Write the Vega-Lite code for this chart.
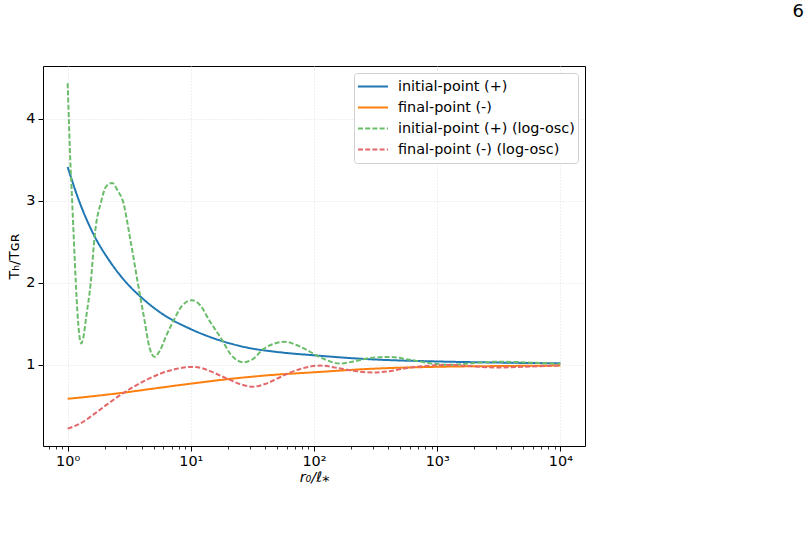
{
  "$schema": "https://vega.github.io/schema/vega-lite/v6.json",
  "width": 542,
  "height": 380,
  "autosize": {"type": "none"},
  "padding": {"left": 43, "top": 66, "right": 224, "bottom": 91},
  "title": {"text": "6", "anchor": "end", "frame": "group", "dx": 219, "offset": 45, "fontSize": 18, "fontWeight": "normal", "font": "DejaVu Sans", "color": "#000000"},
  "config": {
    "font": "DejaVu Sans",
    "view": {"stroke": "#000000", "strokeWidth": 1},
    "axis": {
      "labelFont": "DejaVu Sans", "labelFontSize": 14.4, "labelColor": "#000000",
      "titleFont": "DejaVu Sans", "titleFontSize": 14.4, "titleFontWeight": "normal", "titleColor": "#000000",
      "domain": false, "tickColor": "#000000", "tickSize": 5, "tickWidth": 1,
      "gridColor": "#d9d9d9", "gridDash": [1, 2], "gridWidth": 0.8
    },
    "legend": {
      "title": null, "orient": "top-right", "offset": 7, "padding": 3,
      "fillColor": "#ffffff", "strokeColor": "#d0d0d0", "cornerRadius": 3,
      "labelFontSize": 14.4, "labelFont": "DejaVu Sans", "labelColor": "#000000", "labelOffset": 9, "labelLimit": 400,
      "symbolType": "stroke", "symbolSize": 900, "rowPadding": 0, "clipHeight": 21
    }
  },
  "data": {"values": [
    {"s": "initial-point (+)", "r": 1, "v": 3.41},
    {"s": "initial-point (+)", "r": 1.25, "v": 2.98},
    {"s": "initial-point (+)", "r": 1.61, "v": 2.6},
    {"s": "initial-point (+)", "r": 2.2, "v": 2.26},
    {"s": "initial-point (+)", "r": 3, "v": 2.0},
    {"s": "initial-point (+)", "r": 4.04, "v": 1.81},
    {"s": "initial-point (+)", "r": 6, "v": 1.61},
    {"s": "initial-point (+)", "r": 10, "v": 1.434},
    {"s": "initial-point (+)", "r": 17.8, "v": 1.29},
    {"s": "initial-point (+)", "r": 28.4, "v": 1.21},
    {"s": "initial-point (+)", "r": 50, "v": 1.156},
    {"s": "initial-point (+)", "r": 100, "v": 1.115},
    {"s": "initial-point (+)", "r": 267, "v": 1.069},
    {"s": "initial-point (+)", "r": 1000, "v": 1.04},
    {"s": "initial-point (+)", "r": 3000, "v": 1.027},
    {"s": "initial-point (+)", "r": 10000, "v": 1.017},

    {"s": "final-point (-)", "r": 1, "v": 0.585},
    {"s": "final-point (-)", "r": 1.5, "v": 0.612},
    {"s": "final-point (-)", "r": 2.84, "v": 0.66},
    {"s": "final-point (-)", "r": 5, "v": 0.71},
    {"s": "final-point (-)", "r": 10, "v": 0.77},
    {"s": "final-point (-)", "r": 25, "v": 0.84},
    {"s": "final-point (-)", "r": 50, "v": 0.88},
    {"s": "final-point (-)", "r": 100, "v": 0.908},
    {"s": "final-point (-)", "r": 267, "v": 0.948},
    {"s": "final-point (-)", "r": 1000, "v": 0.975},
    {"s": "final-point (-)", "r": 3000, "v": 0.984},
    {"s": "final-point (-)", "r": 10000, "v": 0.99},

    {"s": "initial-point (+) (log-osc)", "r": 1, "v": 4.43},
    {"s": "initial-point (+) (log-osc)", "r": 1.023, "v": 4.0},
    {"s": "initial-point (+) (log-osc)", "r": 1.05, "v": 3.5},
    {"s": "initial-point (+) (log-osc)", "r": 1.088, "v": 3.0},
    {"s": "initial-point (+) (log-osc)", "r": 1.125, "v": 2.5},
    {"s": "initial-point (+) (log-osc)", "r": 1.165, "v": 2.0},
    {"s": "initial-point (+) (log-osc)", "r": 1.2, "v": 1.65},
    {"s": "initial-point (+) (log-osc)", "r": 1.24, "v": 1.38},
    {"s": "initial-point (+) (log-osc)", "r": 1.29, "v": 1.26},
    {"s": "initial-point (+) (log-osc)", "r": 1.34, "v": 1.33},
    {"s": "initial-point (+) (log-osc)", "r": 1.42, "v": 1.6},
    {"s": "initial-point (+) (log-osc)", "r": 1.54, "v": 2.0},
    {"s": "initial-point (+) (log-osc)", "r": 1.66, "v": 2.58},
    {"s": "initial-point (+) (log-osc)", "r": 1.88, "v": 3.0},
    {"s": "initial-point (+) (log-osc)", "r": 2.05, "v": 3.17},
    {"s": "initial-point (+) (log-osc)", "r": 2.3, "v": 3.215},
    {"s": "initial-point (+) (log-osc)", "r": 2.55, "v": 3.12},
    {"s": "initial-point (+) (log-osc)", "r": 2.8, "v": 3.0},
    {"s": "initial-point (+) (log-osc)", "r": 3.25, "v": 2.5},
    {"s": "initial-point (+) (log-osc)", "r": 3.71, "v": 2.0},
    {"s": "initial-point (+) (log-osc)", "r": 4.2, "v": 1.55},
    {"s": "initial-point (+) (log-osc)", "r": 4.6, "v": 1.22},
    {"s": "initial-point (+) (log-osc)", "r": 5.06, "v": 1.097},
    {"s": "initial-point (+) (log-osc)", "r": 5.6, "v": 1.17},
    {"s": "initial-point (+) (log-osc)", "r": 6.3, "v": 1.35},
    {"s": "initial-point (+) (log-osc)", "r": 7.2, "v": 1.53},
    {"s": "initial-point (+) (log-osc)", "r": 8.5, "v": 1.72},
    {"s": "initial-point (+) (log-osc)", "r": 10.2, "v": 1.786},
    {"s": "initial-point (+) (log-osc)", "r": 12, "v": 1.72},
    {"s": "initial-point (+) (log-osc)", "r": 14, "v": 1.55},
    {"s": "initial-point (+) (log-osc)", "r": 17.8, "v": 1.31},
    {"s": "initial-point (+) (log-osc)", "r": 21, "v": 1.13},
    {"s": "initial-point (+) (log-osc)", "r": 26.7, "v": 1.03},
    {"s": "initial-point (+) (log-osc)", "r": 32, "v": 1.07},
    {"s": "initial-point (+) (log-osc)", "r": 38.7, "v": 1.19},
    {"s": "initial-point (+) (log-osc)", "r": 46, "v": 1.25},
    {"s": "initial-point (+) (log-osc)", "r": 58, "v": 1.28},
    {"s": "initial-point (+) (log-osc)", "r": 72, "v": 1.24},
    {"s": "initial-point (+) (log-osc)", "r": 85, "v": 1.19},
    {"s": "initial-point (+) (log-osc)", "r": 100, "v": 1.13},
    {"s": "initial-point (+) (log-osc)", "r": 125, "v": 1.06},
    {"s": "initial-point (+) (log-osc)", "r": 162, "v": 1.015},
    {"s": "initial-point (+) (log-osc)", "r": 210, "v": 1.04},
    {"s": "initial-point (+) (log-osc)", "r": 280, "v": 1.08},
    {"s": "initial-point (+) (log-osc)", "r": 412, "v": 1.095},
    {"s": "initial-point (+) (log-osc)", "r": 600, "v": 1.06},
    {"s": "initial-point (+) (log-osc)", "r": 1000, "v": 1.008},
    {"s": "initial-point (+) (log-osc)", "r": 1300, "v": 1.0},
    {"s": "initial-point (+) (log-osc)", "r": 2000, "v": 1.02},
    {"s": "initial-point (+) (log-osc)", "r": 3000, "v": 1.037},
    {"s": "initial-point (+) (log-osc)", "r": 5000, "v": 1.03},
    {"s": "initial-point (+) (log-osc)", "r": 7000, "v": 1.02},
    {"s": "initial-point (+) (log-osc)", "r": 10000, "v": 1.012},

    {"s": "final-point (-) (log-osc)", "r": 1, "v": 0.222},
    {"s": "final-point (-) (log-osc)", "r": 1.26, "v": 0.283},
    {"s": "final-point (-) (log-osc)", "r": 1.62, "v": 0.392},
    {"s": "final-point (-) (log-osc)", "r": 2.08, "v": 0.514},
    {"s": "final-point (-) (log-osc)", "r": 2.84, "v": 0.656},
    {"s": "final-point (-) (log-osc)", "r": 4.12, "v": 0.797},
    {"s": "final-point (-) (log-osc)", "r": 5.63, "v": 0.89},
    {"s": "final-point (-) (log-osc)", "r": 7.69, "v": 0.951},
    {"s": "final-point (-) (log-osc)", "r": 10, "v": 0.974},
    {"s": "final-point (-) (log-osc)", "r": 12.5, "v": 0.955},
    {"s": "final-point (-) (log-osc)", "r": 15, "v": 0.91},
    {"s": "final-point (-) (log-osc)", "r": 20.8, "v": 0.815},
    {"s": "final-point (-) (log-osc)", "r": 25, "v": 0.765},
    {"s": "final-point (-) (log-osc)", "r": 32, "v": 0.733},
    {"s": "final-point (-) (log-osc)", "r": 40, "v": 0.765},
    {"s": "final-point (-) (log-osc)", "r": 50, "v": 0.83},
    {"s": "final-point (-) (log-osc)", "r": 60, "v": 0.887},
    {"s": "final-point (-) (log-osc)", "r": 80, "v": 0.955},
    {"s": "final-point (-) (log-osc)", "r": 112, "v": 0.99},
    {"s": "final-point (-) (log-osc)", "r": 150, "v": 0.965},
    {"s": "final-point (-) (log-osc)", "r": 200, "v": 0.93},
    {"s": "final-point (-) (log-osc)", "r": 302, "v": 0.905},
    {"s": "final-point (-) (log-osc)", "r": 400, "v": 0.92},
    {"s": "final-point (-) (log-osc)", "r": 600, "v": 0.966},
    {"s": "final-point (-) (log-osc)", "r": 1000, "v": 0.994},
    {"s": "final-point (-) (log-osc)", "r": 1200, "v": 0.998},
    {"s": "final-point (-) (log-osc)", "r": 2000, "v": 0.98},
    {"s": "final-point (-) (log-osc)", "r": 3000, "v": 0.966},
    {"s": "final-point (-) (log-osc)", "r": 5000, "v": 0.975},
    {"s": "final-point (-) (log-osc)", "r": 10000, "v": 0.99}
  ]},
  "layer": [
    {
      "mark": {"type": "line", "interpolate": "monotone"},
      "encoding": {
        "x": {
          "field": "r", "type": "quantitative",
          "scale": {"type": "log", "domain": [0.631, 15849], "nice": false},
          "axis": {
            "orient": "bottom",
            "values": [1, 10, 100, 1000, 10000],
            "labelExpr": "datum.value == 1 ? '10⁰' : datum.value == 10 ? '10¹' : datum.value == 100 ? '10²' : datum.value == 1000 ? '10³' : '10⁴'",
            "labelPadding": 3,
            "title": "r₀/ℓ⁎", "titleFontStyle": "italic", "titlePadding": 3,
            "grid": true
          }
        },
        "y": {
          "field": "v", "type": "quantitative",
          "scale": {"domain": [0.01, 4.64], "nice": false, "zero": false},
          "axis": {"values": [1, 2, 3, 4], "grid": true, "title": "Tₕ/Tɢʀ", "titlePadding": 4, "labelPadding": 3}
        },
        "color": {
          "field": "s", "type": "nominal",
          "scale": {
            "domain": ["initial-point (+)", "final-point (-)", "initial-point (+) (log-osc)", "final-point (-) (log-osc)"],
            "range": ["#1f77b4", "#ff7f0e", "#6bbd6b", "#e2686a"]
          }
        },
        "strokeDash": {
          "field": "s", "type": "nominal",
          "scale": {
            "domain": ["initial-point (+)", "final-point (-)", "initial-point (+) (log-osc)", "final-point (-) (log-osc)"],
            "range": [[1, 0], [1, 0], [5, 2.2], [5, 2.2]]
          }
        },
        "strokeWidth": {
          "field": "s", "type": "nominal",
          "scale": {
            "domain": ["initial-point (+)", "final-point (-)", "initial-point (+) (log-osc)", "final-point (-) (log-osc)"],
            "range": [2, 2, 1.4, 1.4]
          }
        }
      }
    },
    {
      "mark": {"type": "point", "opacity": 0},
      "encoding": {
        "x": {
          "field": "r", "type": "quantitative",
          "axis": {
            "orient": "bottom",
            "values": [0.7, 0.8, 0.9, 2, 3, 4, 5, 6, 7, 8, 9, 20, 30, 40, 50, 60, 70, 80, 90, 200, 300, 400, 500, 600, 700, 800, 900, 2000, 3000, 4000, 5000, 6000, 7000, 8000, 9000],
            "labels": false, "grid": false, "tickSize": 3, "tickWidth": 0.8, "title": null
          }
        },
        "y": {"field": "v", "type": "quantitative", "axis": null}
      }
    }
  ],
  "resolve": {"axis": {"x": "independent", "y": "independent"}}
}
